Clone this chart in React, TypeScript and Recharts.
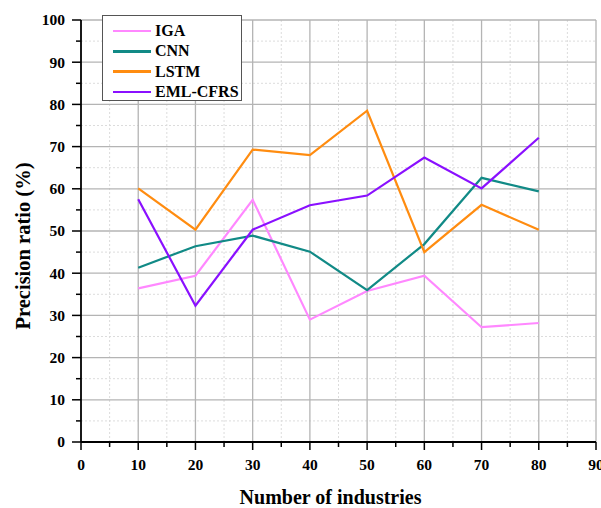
import React from 'react';
import { LineChart, Line, XAxis, YAxis, CartesianGrid, Legend, Label } from 'recharts';

const industries = [10, 20, 30, 40, 50, 60, 70, 80];
const igaValues = [36.4, 39.4, 57.4, 29.0, 35.8, 39.4, 27.2, 28.2];
const cnnValues = [41.3, 46.4, 48.9, 45.1, 36.0, 46.9, 62.6, 59.4];
const lstmValues = [60.1, 50.3, 69.3, 68.0, 78.5, 45.0, 56.2, 50.3];
const emlValues = [57.5, 32.3, 50.3, 56.1, 58.4, 67.4, 60.1, 72.1];

const xTicks = [0, 5, 10, 15, 20, 25, 30, 35, 40, 45, 50, 55, 60, 65, 70, 75, 80, 85, 90];
const yTicks = [0, 5, 10, 15, 20, 25, 30, 35, 40, 45, 50, 55, 60, 65, 70, 75, 80, 85, 90, 95, 100];
const xMajorGrid = [10, 20, 30, 40, 50, 60, 70, 80, 90];
const xMinorGrid = [5, 15, 25, 35, 45, 55, 65, 75, 85];
const yMajorGrid = [10, 20, 30, 40, 50, 60, 70, 80, 90, 100];
const yMinorGrid = [5, 15, 25, 35, 45, 55, 65, 75, 85, 95];

const seriesNames = ['IGA', 'CNN', 'LSTM', 'EML-CFRS'];
const seriesColors = ['#ff88ff', '#118a86', '#ff8c10', '#8a10ff'];

const data = industries.map((x, i) => ({
  x,
  IGA: igaValues[i],
  CNN: cnnValues[i],
  LSTM: lstmValues[i],
  'EML-CFRS': emlValues[i],
}));

const FONT = '"Liberation Serif", "Times New Roman", serif';
const TICK_SIZE = 10;
const TICK_MARGIN = 6;

const YTick = (props: any) => {
  const { x, y, payload } = props;
  const v = payload.value;
  const major = v % 10 === 0;
  const edge = x + TICK_SIZE + TICK_MARGIN;
  return (
    <g>
      <line x1={edge} x2={edge - (major ? 9 : 5)} y1={y} y2={y} stroke="#000" strokeWidth={1.5} />
      {major && (
        <text x={edge - 16} y={y} dy="0.35em" textAnchor="end" fontFamily={FONT} fontWeight="bold" fontSize={15.5} fill="#000">
          {v}
        </text>
      )}
    </g>
  );
};

const XTick = (props: any) => {
  const { x, y, payload } = props;
  const v = payload.value;
  const major = v % 10 === 0;
  const edge = y - TICK_SIZE - TICK_MARGIN;
  return (
    <g>
      <line x1={x} x2={x} y1={edge} y2={edge + (major ? 8 : 5)} stroke="#000" strokeWidth={1.5} />
      {major && (
        <text x={x} y={edge + 28} textAnchor="middle" fontFamily={FONT} fontWeight="bold" fontSize={15.5} fill="#000">
          {v}
        </text>
      )}
    </g>
  );
};

const LegendBox = () => (
  <div
    style={{
      width: 138,
      height: 84,
      border: '1px solid #555',
      background: '#fff',
      boxSizing: 'content-box',
      position: 'relative',
    }}
  >
    {seriesNames.map((name, i) => (
      <div
        key={name}
        style={{ position: 'absolute', left: 0, top: 5 + i * 20.3, height: 20, display: 'flex', alignItems: 'center' }}
      >
        <div style={{ marginLeft: 10, width: 38, height: 2.5, background: seriesColors[i] }} />
        <span
          style={{
            marginLeft: 4,
            fontFamily: FONT,
            fontWeight: 'bold',
            fontSize: 16,
            color: '#000',
            lineHeight: '20px',
            whiteSpace: 'nowrap',
          }}
        >
          {name}
        </span>
      </div>
    ))}
  </div>
);

export default function App() {
  return (
    <div style={{ position: 'absolute', left: 0, top: 0, width: 601, height: 508, background: '#fff' }}>
      <LineChart width={601} height={508} data={data} margin={{ top: 20, right: 5, left: 0, bottom: 0 }}>
        <CartesianGrid
          horizontalValues={yMinorGrid}
          verticalValues={xMinorGrid}
          stroke="#dcdcdc"
          strokeDasharray="2 2"
          strokeWidth={1}
        />
        <CartesianGrid
          horizontalValues={yMajorGrid}
          verticalValues={xMajorGrid}
          stroke="#b4b4b4"
          strokeWidth={1.3}
        />
        <XAxis
          dataKey="x"
          type="number"
          domain={[0, 90]}
          ticks={xTicks}
          interval={0}
          allowDataOverflow
          height={66}
          tickSize={TICK_SIZE}
          tickMargin={TICK_MARGIN}
          tickLine={false}
          tick={<XTick />}
          axisLine={{ stroke: '#000', strokeWidth: 1.8 }}
        >
          <Label
            value="Number of industries"
            position="center"
            dx={-8}
            dy={22}
            style={{ fontFamily: FONT, fontWeight: 'bold', fontSize: 20, fill: '#000' }}
          />
        </XAxis>
        <YAxis
          type="number"
          domain={[0, 100]}
          ticks={yTicks}
          interval={0}
          width={81}
          tickSize={TICK_SIZE}
          tickMargin={TICK_MARGIN}
          tickLine={false}
          tick={<YTick />}
          axisLine={{ stroke: '#000', strokeWidth: 1.8 }}
        >
          <Label
            value="Precision ratio (%)"
            position="center"
            angle={-90}
            dx={-18}
            dy={15}
            style={{ fontFamily: FONT, fontWeight: 'bold', fontSize: 20.5, fill: '#000', textAnchor: 'middle' }}
          />
        </YAxis>
        <Legend
          layout="vertical"
          align="center"
          verticalAlign="middle"
          wrapperStyle={{ top: 15, left: 102, width: 140, height: 86 }}
          content={<LegendBox />}
        />
        {seriesNames.map((name, i) => (
          <Line
            key={name}
            type="linear"
            dataKey={name}
            stroke={seriesColors[i]}
            strokeWidth={2.2}
            dot={false}
            activeDot={false}
            isAnimationActive={false}
          />
        ))}
      </LineChart>
    </div>
  );
}
